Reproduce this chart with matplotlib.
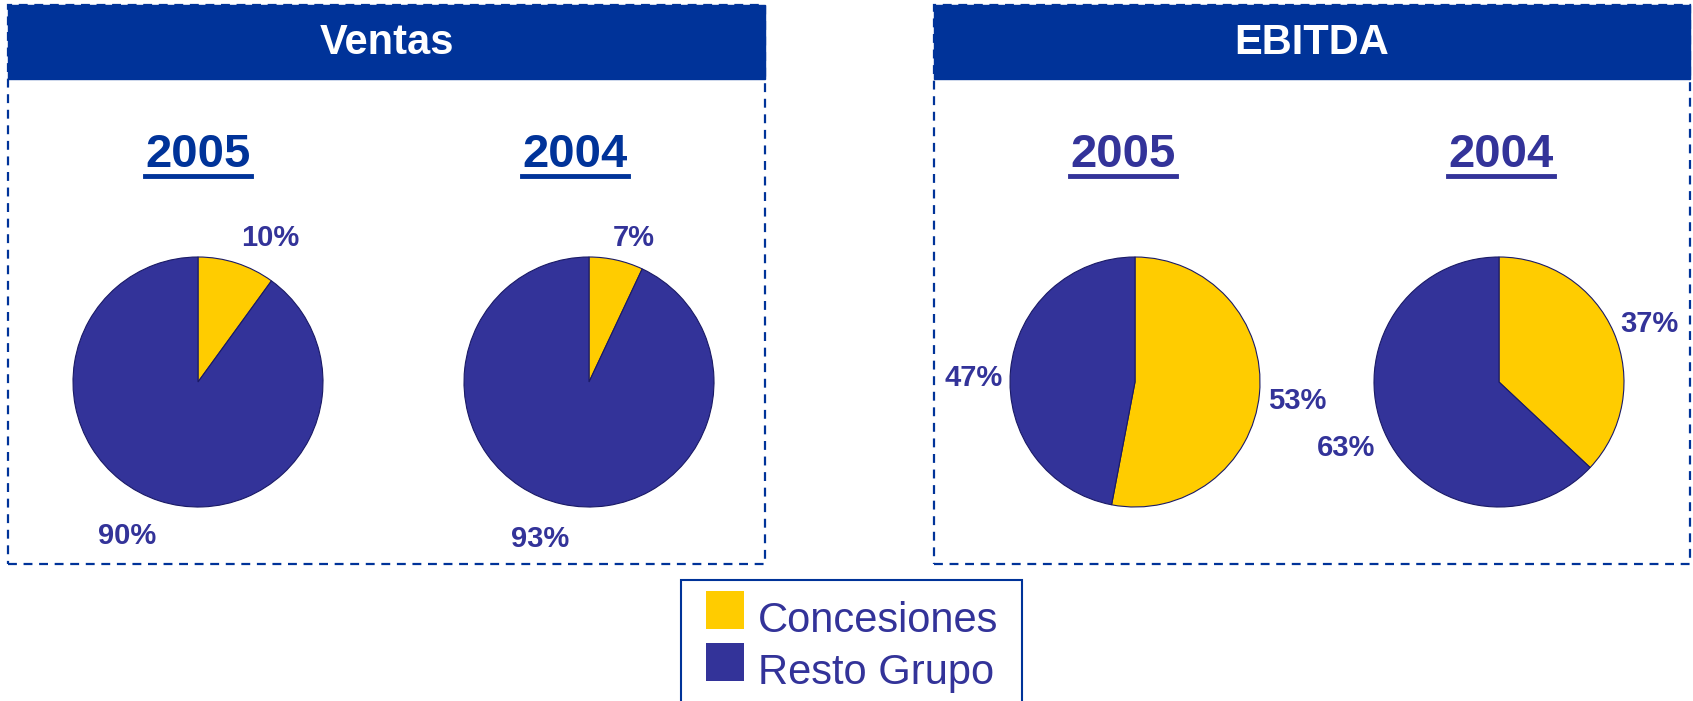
import matplotlib.pyplot as plt
from matplotlib.patches import Rectangle
from matplotlib.lines import Line2D

plt.rcParams['font.family'] = ['Liberation Sans', 'DejaVu Sans']

# data
segments = ["Concesiones", "Resto Grupo"]
panels = ["Ventas", "EBITDA"]
years = ["2005", "2004"]
ventas_2005 = [10, 90]
ventas_2004 = [7, 93]
ebitda_2005 = [53, 47]
ebitda_2004 = [37, 63]

YELLOW = "#FFCC00"
NAVY = "#333399"
BLUE = "#003399"

W, H = 1693, 701
fig = plt.figure(figsize=(W / 100, H / 100), dpi=100)


def fx(x):
    return x / W


def fy(y):
    return 1 - y / H


# panel frames (pixel layout)
frames = [(8, 765), (934, 1690)]
for name, (x0, x1) in zip(panels, frames):
    fig.add_artist(Rectangle((fx(x0), fy(564)), fx(x1 - x0), (564 - 5) / H,
                             transform=fig.transFigure, fill=False,
                             edgecolor=BLUE, lw=1.6, ls=(0, (4, 3))))
    fig.add_artist(Rectangle((fx(x0), fy(79)), fx(x1 - x0), (79 - 5) / H,
                             transform=fig.transFigure, facecolor=BLUE,
                             edgecolor=BLUE, lw=1))
    fig.text(fx((x0 + x1) / 2), fy(43), name, color="white", fontsize=30,
             fontweight="bold", ha="center", va="center")

# pies
pies = [ventas_2005, ventas_2004, ebitda_2005, ebitda_2004]
pie_years = years + years
centers = [(198, 382), (589, 382), (1135, 382), (1499, 382)]
R = 125
year_colors = [BLUE, BLUE, NAVY, NAVY]
year_x = [198, 575, 1123, 1501]
# label offsets in pie-radius units: (concesiones, resto)
label_pos = [
    [(0.58, 1.155), (-0.565, -1.235)],
    [(0.36, 1.155), (-0.39, -1.255)],
    [(1.30, -0.155), (-1.29, 0.035)],
    [(1.20, 0.465), (-1.22, -0.525)],
]

for vals, yr, (cx, cy), yc, yx, lp in zip(pies, pie_years, centers,
                                          year_colors, year_x, label_pos):
    s = 2 * R + 4
    ax = fig.add_axes([fx(cx - s / 2), fy(cy + s / 2), s / W, s / H])
    ax.pie(vals, colors=[YELLOW, NAVY], startangle=90, counterclock=False,
           radius=1, wedgeprops=dict(edgecolor="#1a1a66", linewidth=0.8))
    lim = s / 2 / R
    ax.set_xlim(-lim, lim)
    ax.set_ylim(-lim, lim)
    ax.set_aspect("equal")
    ax.axis("off")
    for v, (dx, dy) in zip(vals, lp):
        ax.text(dx, dy, f"{v}%", color=NAVY, fontsize=21, fontweight="bold",
                ha="center", va="center", clip_on=False)

    fig.text(fx(yx), fy(155), yr, color=yc, fontsize=34, fontweight="bold",
             ha="center", va="center")
    fig.add_artist(Line2D([fx(yx - 53), fx(yx + 53)], [fy(176), fy(176)],
                          transform=fig.transFigure, color=yc, lw=3.5))

# legend box
fig.add_artist(Rectangle((fx(681), fy(705)), fx(1022 - 681), (705 - 580) / H,
                         transform=fig.transFigure, fill=False,
                         edgecolor=BLUE, lw=1.5))
for i, (seg, col) in enumerate(zip(segments, [YELLOW, NAVY])):
    ytop = 591 + i * 52
    fig.add_artist(Rectangle((fx(706), fy(ytop + 38)), fx(38), 38 / H,
                             transform=fig.transFigure, facecolor=col,
                             edgecolor="none"))
    fig.text(fx(758), fy(ytop + 41), seg, color=NAVY, fontsize=30,
             ha="left", va="baseline")

fig.savefig("out.png", dpi=100)
